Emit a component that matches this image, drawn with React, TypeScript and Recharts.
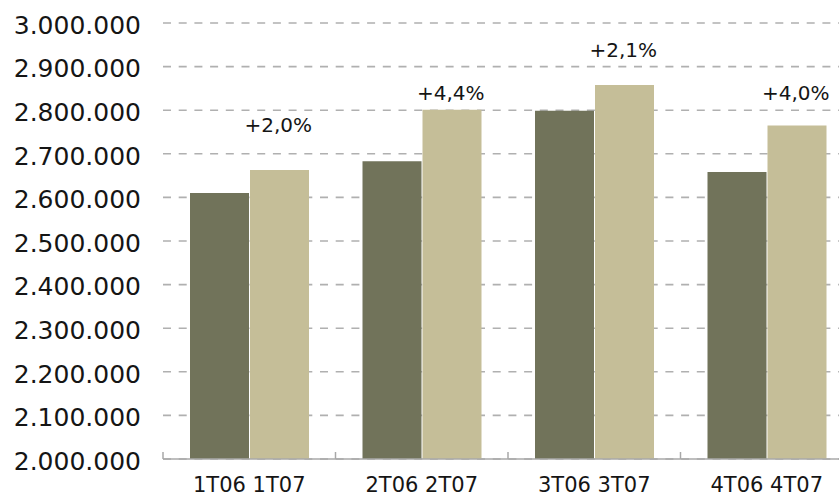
import React from "react";
import {
  BarChart,
  Bar,
  XAxis,
  YAxis,
  CartesianGrid,
  ReferenceDot,
} from "recharts";

// Categories (x tick labels)
const categories = ["1T06 1T07", "2T06 2T07", "3T06 3T07", "4T06 4T07"];
// Series values
const series2006 = [2610000, 2683000, 2799000, 2658000];
const series2007 = [2663000, 2801000, 2858000, 2765000];
// Growth labels and the value height at which each floats
const growthLabels = ["+2,0%", "+4,4%", "+2,1%", "+4,0%"];
const growthLabelHeights = [2750000, 2823000, 2922000, 2823000];
// Y axis ticks
const yTicks = [
  2000000, 2100000, 2200000, 2300000, 2400000, 2500000, 2600000, 2700000,
  2800000, 2900000, 3000000,
];

const data = categories.map((c, i) => ({
  cat: c,
  a: series2006[i],
  b: series2007[i],
}));

const fmt = (v: number) =>
  String(v).replace(/\B(?=(\d{3})+(?!\d))/g, ".");

const FONT = "'DejaVu Sans', Verdana, sans-serif";

const CHART_W = 870;
const CHART_H = 496;
const MARGIN = { top: 23, right: 17, bottom: 0, left: 0 };
const Y_W = 163;
const X_TICK_MARGIN = 18;
const BAND = (CHART_W - MARGIN.left - MARGIN.right - Y_W) / categories.length;

const XTick = (props: any) => {
  const { x, y, payload, index } = props;
  const axisY = y - X_TICK_MARGIN;
  const left = x - BAND / 2;
  const right = x + BAND / 2;
  return (
    <g>
      <line x1={left} x2={left} y1={axisY - 7} y2={axisY} stroke="#a8a8a8" strokeWidth={1.5} />
      {index === categories.length - 1 && (
        <line x1={right} x2={right} y1={axisY - 7} y2={axisY} stroke="#a8a8a8" strokeWidth={1.5} />
      )}
      <text
        x={x}
        y={y}
        dy="0.71em"
        textAnchor="middle"
        fill="#151515"
        fontSize={21}
        fontFamily={FONT}
      >
        {payload.value}
      </text>
    </g>
  );
};

export default function App() {
  return (
    <div
      style={{
        position: "absolute",
        left: 0,
        top: 0,
        width: 839,
        height: 496,
        overflow: "hidden",
        background: "#ffffff",
      }}
    >
      <BarChart
        width={CHART_W}
        height={CHART_H}
        data={data}
        margin={MARGIN}
        barSize={59}
        barGap={1}
      >
        <CartesianGrid
          horizontal={true}
          vertical={false}
          stroke="#b0b0b0"
          strokeWidth={1.6}
          strokeDasharray="8 7.7"
        />
        <XAxis
          dataKey="cat"
          height={37}
          axisLine={{ stroke: "#a8a8a8", strokeWidth: 1.5 }}
          tickLine={false}
          tickSize={0}
          tickMargin={X_TICK_MARGIN}
          interval={0}
          tick={<XTick />}
        />
        <YAxis
          width={Y_W}
          domain={[2000000, 3000000]}
          ticks={yTicks}
          interval={0}
          axisLine={false}
          tickLine={false}
          tickSize={0}
          tickMargin={22}
          tickFormatter={fmt}
          tick={{ fill: "#151515", fontSize: 25, fontFamily: FONT, dy: 2 }}
        />
        <Bar dataKey="a" fill="#71735a" isAnimationActive={false} />
        <Bar dataKey="b" fill="#c5be98" isAnimationActive={false} />
        {categories.map((c, i) => (
          <ReferenceDot
            key={"lbl" + i}
            x={c}
            y={growthLabelHeights[i]}
            r={0}
            fill="none"
            stroke="none"
            label={(p: any) => (
              <text
                x={p.viewBox.x + 29}
                y={p.viewBox.y}
                textAnchor="middle"
                fill="#151515"
                fontSize={20}
                fontFamily={FONT}
              >
                {growthLabels[i]}
              </text>
            )}
          />
        ))}
      </BarChart>
    </div>
  );
}
